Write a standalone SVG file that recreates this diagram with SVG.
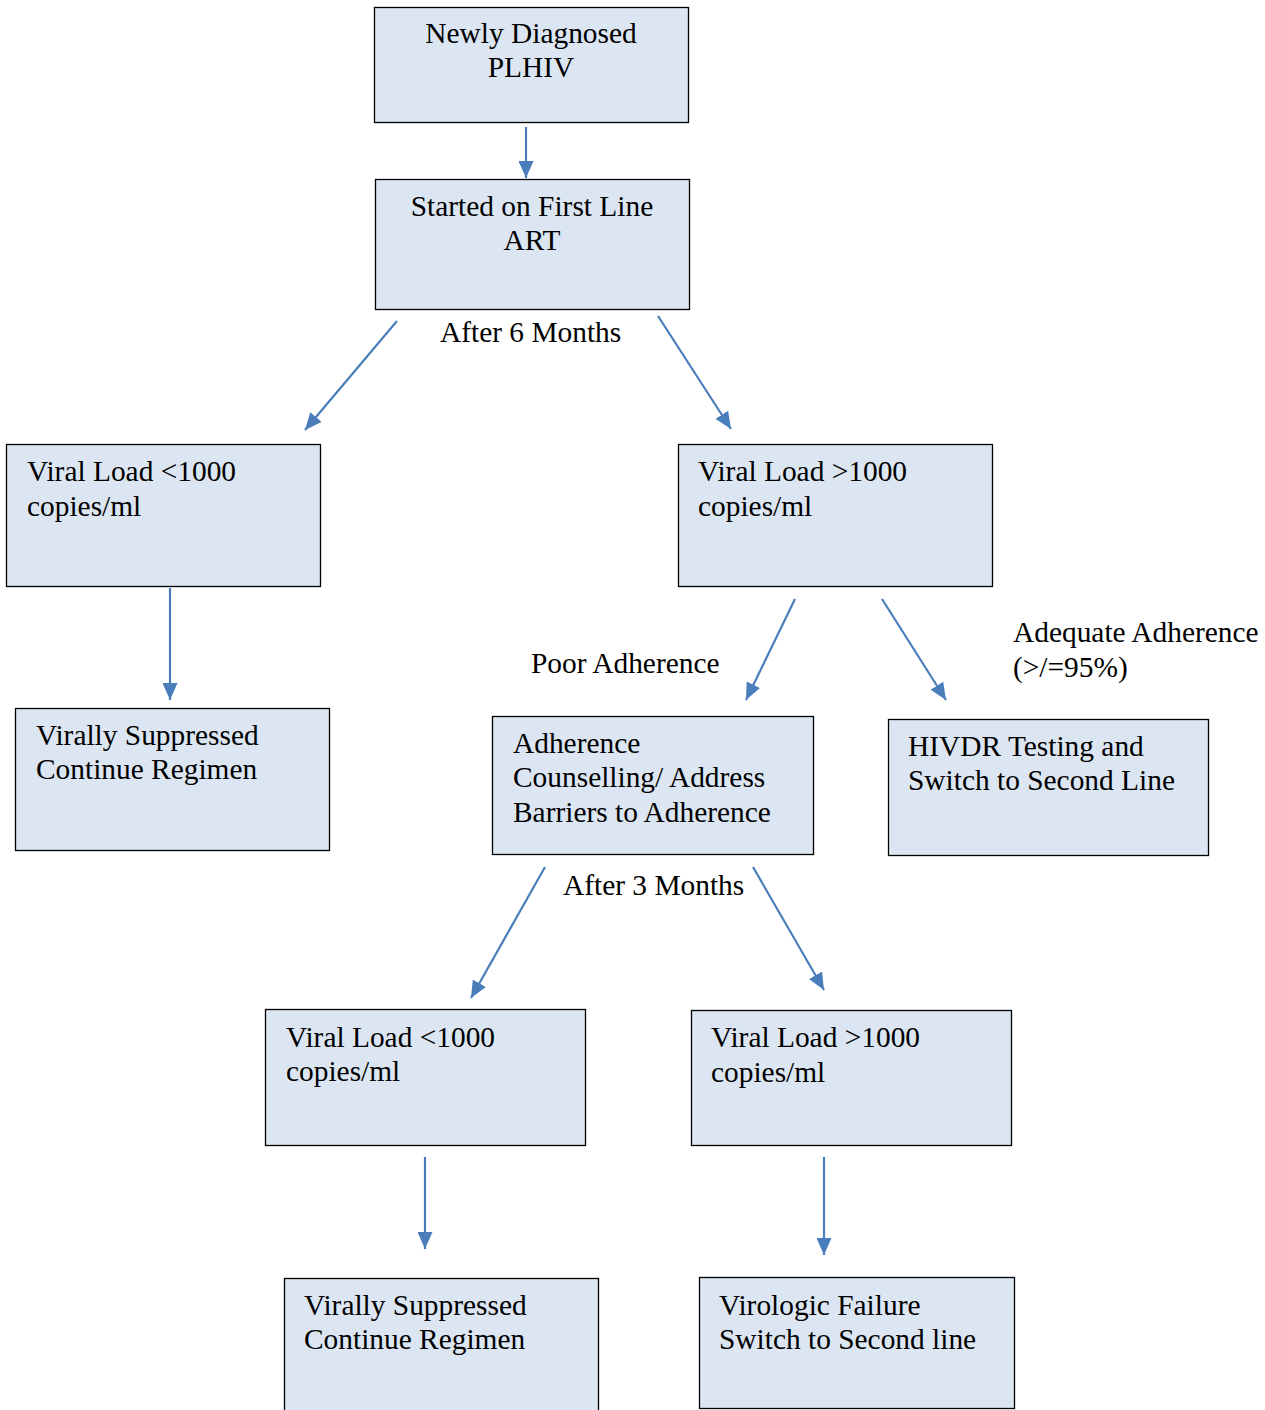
<svg xmlns="http://www.w3.org/2000/svg" width="1265" height="1410" viewBox="0 0 1265 1410">
<style>
.box{fill:#DCE6F2;stroke:#000;stroke-width:1.3}
.t{font-family:"Liberation Serif","Times New Roman",serif;font-size:29.4px;fill:#000}
.c{text-anchor:middle}
.e{stroke:#4A7EBB;stroke-width:2.2;fill:none;marker-end:url(#ah)}
</style>
<defs>
<marker id="ah" markerUnits="userSpaceOnUse" markerWidth="17" markerHeight="15" viewBox="0 0 17 15" refX="17" refY="7.5" orient="auto">
<path d="M0,0 L17,7.5 L0,15 Z" fill="#4A7EBB"/>
</marker>
</defs>
<rect width="1265" height="1410" fill="#fff"/>
<g id="connectors">
<line class="e" x1="526" y1="127" x2="526" y2="178"/>
<line class="e" x1="397" y1="321" x2="305" y2="430"/>
<line class="e" x1="658" y1="316" x2="731" y2="429"/>
<line class="e" x1="170" y1="588" x2="170" y2="700"/>
<line class="e" x1="795" y1="599" x2="746" y2="700"/>
<line class="e" x1="882" y1="599" x2="946" y2="700"/>
<line class="e" x1="545" y1="867" x2="471" y2="998"/>
<line class="e" x1="753" y1="867" x2="824" y2="990"/>
<line class="e" x1="425" y1="1157" x2="425" y2="1249"/>
<line class="e" x1="824" y1="1157" x2="824" y2="1255"/>
</g>
<g id="labels">
<text class="t" x="440" y="342">After 6 Months</text>
<text class="t" x="531" y="673">Poor Adherence</text>
<text class="t" x="1013" y="642">Adequate Adherence</text>
<text class="t" x="1013" y="677">(&gt;/=95%)</text>
<text class="t" x="563" y="895">After 3 Months</text>
</g>
<g id="n1"><rect class="box" x="374.5" y="7.5" width="314" height="115"/>
<text class="t c" x="531" y="43">Newly Diagnosed</text><text class="t c" x="531" y="77">PLHIV</text></g>
<g id="n2"><rect class="box" x="375.5" y="179.5" width="314" height="130"/>
<text class="t c" x="532" y="216">Started on First Line</text><text class="t c" x="532" y="250">ART</text></g>
<g id="n3"><rect class="box" x="6.5" y="444.5" width="314" height="142"/>
<text class="t" x="27" y="481">Viral Load &lt;1000</text><text class="t" x="27" y="516">copies/ml</text></g>
<g id="n4"><rect class="box" x="678.5" y="444.5" width="314" height="142"/>
<text class="t" x="698" y="481">Viral Load &gt;1000</text><text class="t" x="698" y="516">copies/ml</text></g>
<g id="n5"><rect class="box" x="15.5" y="708.5" width="314" height="142"/>
<text class="t" x="36" y="745">Virally Suppressed</text><text class="t" x="36" y="779">Continue Regimen</text></g>
<g id="n6"><rect class="box" x="492.5" y="716.5" width="321" height="138"/>
<text class="t" x="513" y="753">Adherence</text><text class="t" x="513" y="787">Counselling/ Address</text><text class="t" x="513" y="822">Barriers to Adherence</text></g>
<g id="n7"><rect class="box" x="888.5" y="719.5" width="320" height="136"/>
<text class="t" x="908" y="756">HIVDR Testing and</text><text class="t" x="908" y="790">Switch to Second Line</text></g>
<g id="n8"><rect class="box" x="265.5" y="1009.5" width="320" height="136"/>
<text class="t" x="286" y="1047">Viral Load &lt;1000</text><text class="t" x="286" y="1081">copies/ml</text></g>
<g id="n9"><rect class="box" x="691.5" y="1010.5" width="320" height="135"/>
<text class="t" x="711" y="1047">Viral Load &gt;1000</text><text class="t" x="711" y="1082">copies/ml</text></g>
<g id="n10"><rect class="box" x="284.5" y="1278.5" width="314" height="140"/>
<text class="t" x="304" y="1315">Virally Suppressed</text><text class="t" x="304" y="1349">Continue Regimen</text></g>
<g id="n11"><rect class="box" x="699.5" y="1277.5" width="315" height="131"/>
<text class="t" x="719" y="1315">Virologic Failure</text><text class="t" x="719" y="1349">Switch to Second line</text></g>
</svg>
